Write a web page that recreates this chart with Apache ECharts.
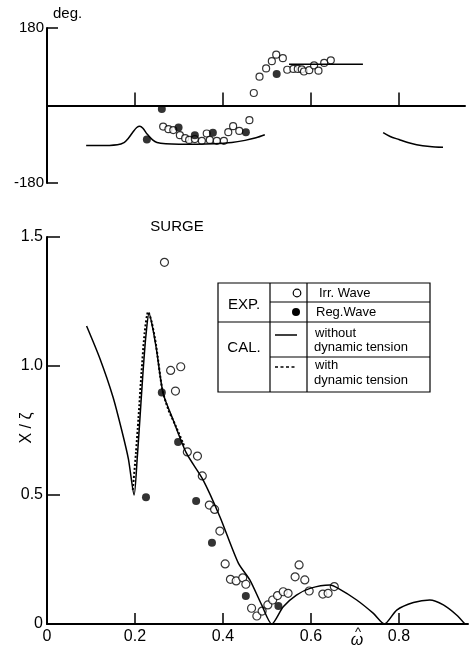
<!DOCTYPE html>
<html>
<head>
<meta charset="utf-8">
<script src="https://cdn.jsdelivr.net/npm/echarts@6/dist/echarts.min.js"></script>
<style>
  html, body { margin: 0; padding: 0; background: #fff; }
  #chart { width: 470px; height: 647px; }
</style>
</head>
<body>
<div id="chart"></div>
<script>
// x ticks and labels
var xTicks = [0.2, 0.4, 0.6, 0.8];
var xLabels = [0, 0.2, 0.4, 0.6, 0.8];
var ampTicks = [0.5, 1.0, 1.5];
var ampLabels = [0, 0.5, 1.0, 1.5];
var phaseTicks = [-180, 180];

// phase (deg.) - upper plot
var phaseIrr = [
    [0.470, 29], [0.483, 67], [0.498, 86], [0.511, 103], [0.521, 118], [0.536, 110],
    [0.546, 83], [0.560, 85], [0.570, 85], [0.579, 84], [0.584, 79], [0.596, 82],
    [0.607, 93], [0.617, 81], [0.630, 99], [0.645, 105],
    [0.264, -49], [0.276, -55], [0.287, -57], [0.302, -69], [0.314, -76], [0.323, -80],
    [0.336, -78], [0.352, -82], [0.363, -65], [0.370, -80], [0.386, -82], [0.402, -82],
    [0.412, -62], [0.423, -48], [0.437, -59], [0.460, -34]
];
var phaseReg = [
    [0.522, 73], [0.261, -8], [0.227, -79], [0.299, -51], [0.336, -69], [0.377, -63], [0.452, -62]
];
var phaseCal1 = [
    [0.089, -93], [0.12, -93], [0.16, -91], [0.175, -86], [0.185, -76], [0.195, -62],
    [0.204, -51], [0.211, -48], [0.218, -53], [0.228, -67], [0.24, -80], [0.25, -86],
    [0.27, -89], [0.30, -90], [0.34, -90], [0.38, -89], [0.42, -86], [0.45, -81],
    [0.475, -75], [0.495, -68]
];
var phaseCal2 = [[0.55, 96], [0.718, 96]];
var phaseCal3 = [
    [0.764, -63], [0.78, -72], [0.80, -79], [0.82, -86], [0.84, -91], [0.87, -95], [0.90, -97]
];

// X / zeta - lower plot
var ampIrr = [
    [0.267, 1.402], [0.281, 0.983], [0.304, 0.997], [0.292, 0.903],
    [0.319, 0.667], [0.342, 0.651], [0.353, 0.574], [0.369, 0.461], [0.381, 0.444],
    [0.393, 0.360], [0.405, 0.233], [0.417, 0.173], [0.430, 0.167], [0.445, 0.179],
    [0.452, 0.154], [0.465, 0.061], [0.477, 0.031], [0.489, 0.050], [0.502, 0.074],
    [0.513, 0.093], [0.524, 0.110], [0.537, 0.125], [0.548, 0.119], [0.573, 0.229],
    [0.564, 0.183], [0.586, 0.171], [0.596, 0.128], [0.627, 0.116], [0.639, 0.119],
    [0.653, 0.145]
];
var ampReg = [
    [0.261, 0.897], [0.298, 0.705], [0.339, 0.477], [0.375, 0.315], [0.225, 0.491],
    [0.452, 0.109], [0.526, 0.070]
];
var ampWithout = [
    [0.090, 1.155], [0.12, 1.03], [0.15, 0.88], [0.17, 0.75], [0.185, 0.64], [0.198, 0.50],
    [0.205, 0.64], [0.211, 0.79], [0.218, 0.97], [0.225, 1.12], [0.232, 1.204],
    [0.240, 1.15], [0.249, 1.062], [0.264, 0.894], [0.287, 0.79], [0.317, 0.662],
    [0.355, 0.558], [0.393, 0.416], [0.435, 0.236], [0.461, 0.171], [0.488, 0.074],
    [0.511, 0.0], [0.537, 0.067], [0.567, 0.112], [0.598, 0.138], [0.643, 0.151],
    [0.662, 0.138], [0.704, 0.093], [0.742, 0.041], [0.767, 0.0], [0.795, 0.054],
    [0.833, 0.083], [0.870, 0.093], [0.901, 0.074], [0.931, 0.035], [0.950, 0.0]
];
var ampWith = [
    [0.195, 0.52], [0.202, 0.66], [0.208, 0.80], [0.215, 0.98], [0.222, 1.13],
    [0.230, 1.21], [0.238, 1.17], [0.248, 1.08], [0.262, 0.91], [0.276, 0.83],
    [0.292, 0.77], [0.312, 0.69]
];

var font = 'Liberation Sans';

function openCircle(size) {
    return { symbol: 'circle', symbolSize: size,
        itemStyle: { color: '#fff', borderColor: '#000', borderWidth: 1.2 } };
}

var chart = echarts.init(document.getElementById('chart'));
var option = {
    animation: false,
    backgroundColor: '#fff',
    grid: [
        { left: 47, top: 28, width: 418, height: 155 },
        { left: 47, top: 237, width: 421, height: 387 }
    ],
    xAxis: [
        {
            gridIndex: 0, type: 'value', min: 0, max: 0.95,
            axisLine: { onZero: true, lineStyle: { color: '#000', width: 2 } },
            axisTick: { inside: true, length: 13, customValues: xTicks, lineStyle: { color: '#000', width: 1.5 } },
            axisLabel: { show: false },
            splitLine: { show: false }
        },
        {
            gridIndex: 1, type: 'value', min: 0, max: 0.957,
            axisLine: { onZero: false, lineStyle: { color: '#000', width: 2 } },
            axisTick: { inside: true, length: 11, customValues: xTicks, lineStyle: { color: '#000', width: 1.5 } },
            axisLabel: { customValues: xLabels, color: '#000', fontFamily: font, fontSize: 16, margin: 5,
                formatter: function (v) { return v === 0 ? '0' : v.toFixed(1); } },
            splitLine: { show: false }
        }
    ],
    yAxis: [
        {
            gridIndex: 0, type: 'value', min: -180, max: 180,
            axisLine: { show: true, onZero: false, lineStyle: { color: '#000', width: 2 } },
            axisTick: { inside: true, length: 11, customValues: phaseTicks, lineStyle: { color: '#000', width: 1.5 } },
            axisLabel: { customValues: phaseTicks, color: '#000', fontFamily: font, fontSize: 15, margin: 3 },
            splitLine: { show: false }
        },
        {
            gridIndex: 1, type: 'value', min: 0, max: 1.5,
            axisLine: { show: true, onZero: false, lineStyle: { color: '#000', width: 2 } },
            axisTick: { inside: true, length: 13, customValues: ampTicks, lineStyle: { color: '#000', width: 1.5 } },
            axisLabel: { customValues: ampLabels, color: '#000', fontFamily: font, fontSize: 16, margin: 4,
                formatter: function (v) { return v === 0 ? '0' : v.toFixed(1); } },
            splitLine: { show: false }
        }
    ],
    graphic: [
        { type: 'text', left: 53, top: 6, style: { text: 'deg.', font: '15px ' + font, fill: '#000' } },
        { type: 'text', x: 177, y: 227, style: { text: 'SURGE', font: '15px ' + font, fill: '#000', align: 'center', verticalAlign: 'middle' } },
        { type: 'text', x: 27, y: 428, rotation: Math.PI / 2, style: { text: 'X / ζ', font: '16px ' + font, fill: '#000', align: 'center', verticalAlign: 'middle' } },
        { type: 'text', x: 357, y: 641, style: { text: 'ω', font: 'italic 16px ' + font, fill: '#000', align: 'center', verticalAlign: 'middle' } },
        { type: 'text', x: 358, y: 632, style: { text: '^', font: '13px ' + font, fill: '#000', align: 'center', verticalAlign: 'middle' } },
        // legend table
        { type: 'rect', shape: { x: 218, y: 283, width: 212, height: 109 }, style: { fill: '#fff', stroke: '#000', lineWidth: 1.2 } },
        { type: 'line', shape: { x1: 270, y1: 283, x2: 270, y2: 392 }, style: { stroke: '#000', lineWidth: 1.2 } },
        { type: 'line', shape: { x1: 307, y1: 283, x2: 307, y2: 392 }, style: { stroke: '#000', lineWidth: 1.2 } },
        { type: 'line', shape: { x1: 270, y1: 302, x2: 430, y2: 302 }, style: { stroke: '#000', lineWidth: 1.2 } },
        { type: 'line', shape: { x1: 218, y1: 322, x2: 430, y2: 322 }, style: { stroke: '#000', lineWidth: 1.2 } },
        { type: 'line', shape: { x1: 270, y1: 357, x2: 430, y2: 357 }, style: { stroke: '#000', lineWidth: 1.2 } },
        { type: 'text', x: 244, y: 305, style: { text: 'EXP.', font: '15px ' + font, fill: '#000', align: 'center', verticalAlign: 'middle' } },
        { type: 'text', x: 244, y: 348, style: { text: 'CAL.', font: '15px ' + font, fill: '#000', align: 'center', verticalAlign: 'middle' } },
        { type: 'circle', shape: { cx: 297, cy: 293, r: 3.8 }, style: { fill: '#fff', stroke: '#000', lineWidth: 1.2 } },
        { type: 'circle', shape: { cx: 296, cy: 312, r: 4 }, style: { fill: '#000' } },
        { type: 'line', shape: { x1: 275, y1: 335, x2: 297, y2: 335 }, style: { stroke: '#000', lineWidth: 1.5 } },
        { type: 'line', shape: { x1: 275, y1: 367, x2: 297, y2: 367 }, style: { stroke: '#000', lineWidth: 1.5, lineDash: [3, 2.5] } },
        { type: 'text', x: 319, y: 293, style: { text: 'Irr. Wave', font: '13px ' + font, fill: '#000', verticalAlign: 'middle' } },
        { type: 'text', x: 316, y: 312, style: { text: 'Reg.Wave', font: '13px ' + font, fill: '#000', verticalAlign: 'middle' } },
        { type: 'text', x: 315, y: 333, style: { text: 'without', font: '13px ' + font, fill: '#000', verticalAlign: 'middle' } },
        { type: 'text', x: 314, y: 347, style: { text: 'dynamic tension', font: '13px ' + font, fill: '#000', verticalAlign: 'middle' } },
        { type: 'text', x: 315, y: 365, style: { text: 'with', font: '13px ' + font, fill: '#000', verticalAlign: 'middle' } },
        { type: 'text', x: 314, y: 380, style: { text: 'dynamic tension', font: '13px ' + font, fill: '#000', verticalAlign: 'middle' } }
    ],
    series: [
        { type: 'line', xAxisIndex: 0, yAxisIndex: 0, data: phaseCal1, smooth: 0.3, showSymbol: false, lineStyle: { color: '#000', width: 1.5 } },
        { type: 'line', xAxisIndex: 0, yAxisIndex: 0, data: phaseCal2, showSymbol: false, lineStyle: { color: '#000', width: 1.5 } },
        { type: 'line', xAxisIndex: 0, yAxisIndex: 0, data: phaseCal3, smooth: 0.3, showSymbol: false, lineStyle: { color: '#000', width: 1.5 } },
        Object.assign({ type: 'scatter', xAxisIndex: 0, yAxisIndex: 0, data: phaseIrr }, openCircle(7)),
        { type: 'scatter', xAxisIndex: 0, yAxisIndex: 0, data: phaseReg, symbol: 'circle', symbolSize: 8, itemStyle: { color: '#000' } },

        { type: 'line', xAxisIndex: 1, yAxisIndex: 1, data: ampWithout, smooth: 0.25, showSymbol: false, lineStyle: { color: '#000', width: 1.5 } },
        { type: 'line', xAxisIndex: 1, yAxisIndex: 1, data: ampWith, smooth: 0.25, showSymbol: false, lineStyle: { color: '#000', width: 2, type: [2, 2] } },
        Object.assign({ type: 'scatter', xAxisIndex: 1, yAxisIndex: 1, data: ampIrr }, openCircle(8)),
        { type: 'scatter', xAxisIndex: 1, yAxisIndex: 1, data: ampReg, symbol: 'circle', symbolSize: 8, itemStyle: { color: '#000' } }
    ]
};
chart.setOption(option);
window.onresize = function () {
    chart.resize();
};
</script>
</body>
</html>
